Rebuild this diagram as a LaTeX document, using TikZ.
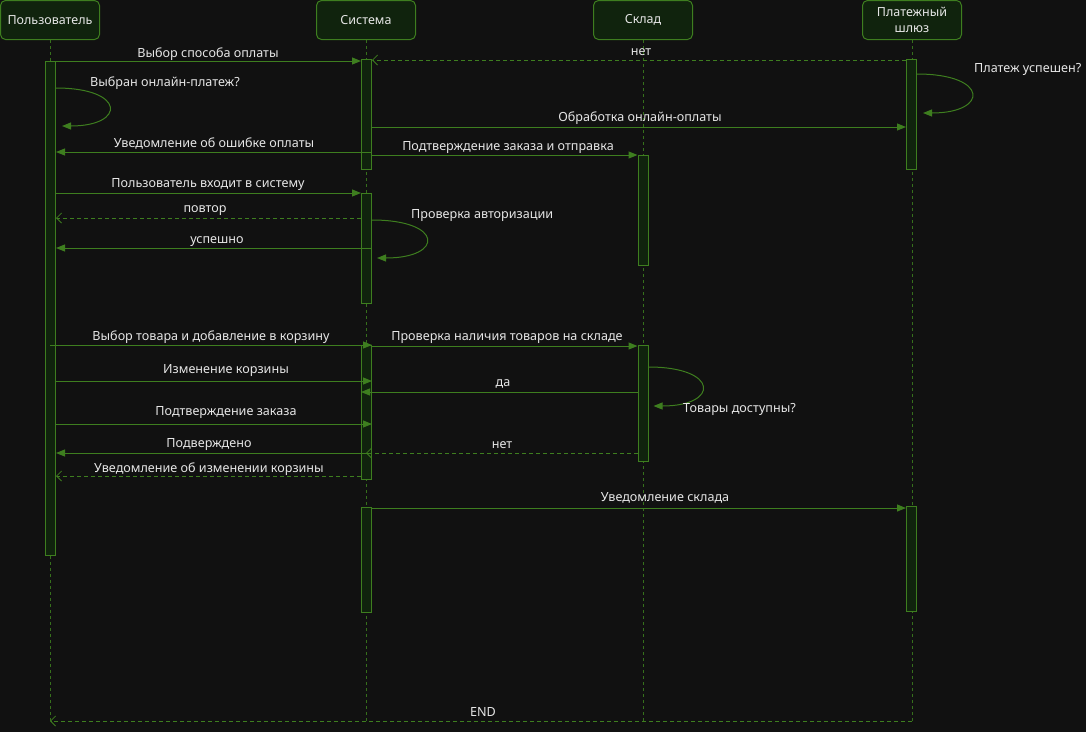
\documentclass[tikz,border=0pt]{standalone}
\usepackage{fontspec}
\setmainfont{Noto Sans}
\usetikzlibrary{arrows.meta,calc}
\definecolor{bg}{HTML}{111111}
\definecolor{ln}{HTML}{3E7E1F}
\definecolor{lfl}{HTML}{36701C}
\definecolor{boxfill}{HTML}{10230D}
\definecolor{txt}{HTML}{E6E6E6}
\tikzset{
  hdr/.style={draw=ln, fill=boxfill, rounded corners=5pt, line width=1pt, minimum width=99pt, minimum height=39pt, inner sep=0pt, text=txt, align=center, font=\fontsize{12.5}{15.5}\selectfont},
  actb/.style={draw=ln, fill=boxfill, line width=1pt, minimum width=10pt, inner sep=0pt},
  lifel/.style={draw=lfl, line width=0.8pt, dash pattern=on 3pt off 3pt},
  msg/.style={draw=ln, line width=1pt, -{Triangle[length=9pt,width=7pt]}},
  rmsg/.style={draw=ln, line width=1pt, dash pattern=on 4pt off 3pt, -{Straight Barb[length=5pt,width=10pt,line width=0.8pt]}},
  lbl/.style={text=txt, anchor=base, inner sep=0pt, font=\fontsize{12.6}{14}\selectfont},
  lbll/.style={lbl, anchor=base west},
}
\newcommand{\actbox}[4]{\node[actb, minimum height={#4-#3}] (#1) at (#2,{(#3+#4)/2}) {};}
\begin{document}
\begin{tikzpicture}[x=1pt,y=-1pt]
\useasboundingbox (0,0) rectangle (1086,732);
\fill[bg] (0,0) rectangle (1086,732);
% headers
\node[hdr] (hU) at (50,20) {Пользователь};
\node[hdr] (hS) at (366,20) {Система};
\node[hdr] (hK) at (643,20) {Склад};
\node[hdr] (hG) at (912,20) {Платежный\\шлюз};
% lifelines
\coordinate (eU) at (50,721);
\coordinate (eS) at (366,721);
\coordinate (eK) at (643,721);
\coordinate (eG) at (912,721);
\draw[lifel] (hU.south) -- (eU);
\draw[lifel] (hS.south) -- (eS);
\draw[lifel] (hK.south) -- (eK);
\draw[lifel] (hG.south) -- (eG);
% activations
\actbox{aU1}{50.5}{61}{555}
\actbox{aS1}{366.5}{59}{169}
\actbox{aS2}{366.5}{193}{303}
\actbox{aS3}{366.5}{345}{479}
\actbox{aS4}{366.5}{507}{612}
\actbox{aK1}{643}{155}{265}
\actbox{aK2}{643}{345}{461}
\actbox{aG1}{911.5}{59}{169}
\actbox{aG2}{911.5}{506}{611}
% messages
\draw[msg] (aU1.east |- 0,61) -- (aS1.west |- 0,61);
\node[lbl] (l1) at (208,57) {Выбор способа оплаты};
\draw[rmsg] (aG1.west |- 0,60) -- (aS1.east |- 0,60);
\node[lbl] (l2) at (641,55) {нет};
\draw[msg] (aU1.east |- 0,88) .. controls +(70,0) and +(64,0) .. ($(aU1.east |- 0,126)+(6,0)$);
\node[lbll] (l3) at (90,86) {Выбран онлайн-платеж?};
\draw[msg] (aG1.east |- 0,74) .. controls +(72,0) and +(66,0) .. ($(aG1.east |- 0,113)+(6,0)$);
\node[lbll] (l4) at (974,72) {Платеж успешен?};
\draw[msg] (aS1.east |- 0,127) -- (aG1.west |- 0,127);
\node[lbl] (l5) at (640,121) {Обработка онлайн-оплаты};
\draw[msg] (aS1.east |- 0,152) -- (aU1.east |- 0,152);
\node[lbl] (l6) at (214,147) {Уведомление об ошибке оплаты};
\draw[msg] (aS1.east |- 0,155) -- (aK1.west |- 0,155);
\node[lbl] (l7) at (508,150) {Подтверждение заказа и отправка};
\draw[msg] (aU1.east |- 0,193) -- (aS2.west |- 0,193);
\node[lbl] (l8) at (208,187) {Пользователь входит в систему};
\draw[rmsg] (aS2.west |- 0,218) -- (aU1.east |- 0,218);
\node[lbl] (l9) at (205,212) {повтор};
\draw[msg] (aS2.east |- 0,220) .. controls +(72,0) and +(67,0) .. ($(aS2.east |- 0,258)+(5,0)$);
\node[lbll] (l10) at (411,218) {Проверка авторизации};
\draw[msg] (aS2.east |- 0,248) -- (aU1.east |- 0,248);
\node[lbl] (l11) at (217,243) {успешно};
\draw[msg] (hU |- 0,345) -- (aS3.east |- 0,345);
\node[lbl] (l12) at (211,340) {Выбор товара и добавление в корзину};
\draw[msg] (aS3.east |- 0,346) -- (aK2.west |- 0,346);
\node[lbl] (l13) at (507,340) {Проверка наличия товаров на складе};
\draw[msg] (aK2.east |- 0,367) .. controls +(71,0) and +(66,0) .. ($(aK2.east |- 0,406)+(5,0)$);
\node[lbll] (l14) at (683,412) {Товары доступны?};
\draw[msg] (aU1.east |- 0,381) -- (aS3.east |- 0,381);
\node[lbl] (l15) at (226,373) {Изменение корзины};
\draw[msg] (aK2.west |- 0,392) -- (aS3.west |- 0,392);
\node[lbl] (l16) at (503,386) {да};
\draw[msg] (aU1.east |- 0,424) -- (aS3.east |- 0,424);
\node[lbl] (l17) at (226,415) {Подтверждение заказа};
\draw[msg] (aS3.east |- 0,453) -- (aU1.east |- 0,453);
\node[lbl] (l18) at (209,447) {Подверждено};
\draw[rmsg] (aK2.west |- 0,453) -- (hS |- 0,453);
\node[lbl] (l19) at (502,448) {нет};
\draw[rmsg] (aS3.west |- 0,476) -- (aU1.east |- 0,476);
\node[lbl] (l20) at (209,472) {Уведомление об изменении корзины};
\draw[msg] (aS4.east |- 0,508) -- (aG2.west |- 0,508);
\node[lbl] (l21) at (665,501) {Уведомление склада};
\draw[rmsg] (eG) -- (eU);
\node[lbl] (l22) at (483,716) {END};
\end{tikzpicture}
\end{document}
